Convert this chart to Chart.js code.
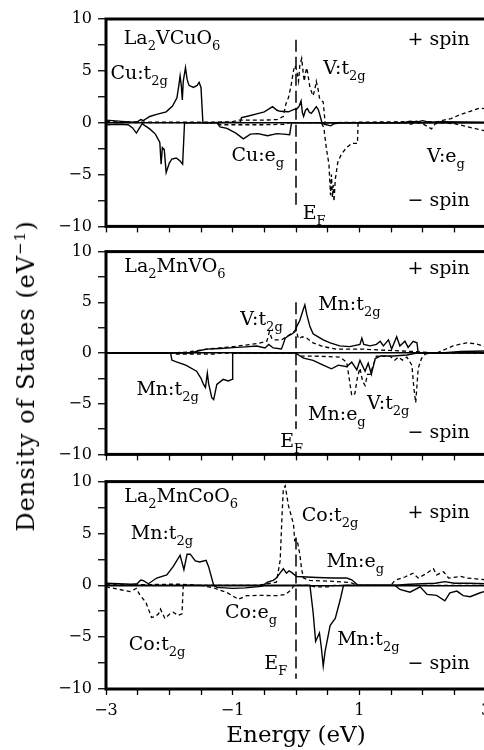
<!DOCTYPE html>
<html lang="en">
<head>
<meta charset="UTF-8">
<title>Density of States</title>
<script src="https://cdn.jsdelivr.net/npm/chart.js"></script>
<style>
  body { margin: 0; background: #fff; }
  #wrap { position: relative; width: 484px; height: 750px; overflow: hidden; font-family: "DejaVu Serif", serif; }
  canvas { position: absolute; left: 0; }
  #ytitle { position: absolute; left: 26px; top: 376px; transform: translate(-50%, -50%) rotate(-90deg);
            white-space: nowrap; font-size: 24px; line-height: 24px; letter-spacing: 1px; }
  #ytitle sup { font-size: 15px; line-height: 0; }
</style>
</head>
<body>
<div id="wrap">
  <canvas id="c1" width="500" height="242" style="top:0px"></canvas>
  <canvas id="c2" width="500" height="234" style="top:236px"></canvas>
  <canvas id="c3" width="500" height="284" style="top:466px"></canvas>
  <div id="ytitle">Density of States (eV<sup>−1</sup>)</div>
</div>

<script>
// [energy (eV), DOS] pairs
// La2VCuO6
const vcuSolidUp = [[-3,0.25],[-2.9,0.2],[-2.8,0.15],[-2.7,0.1],[-2.6,0.05],[-2.5,0.1],[-2.45,0.3],[-2.41,0.2],[-2.35,0.45],[-2.31,0.6],[-2.2,0.8],[-2.05,1.05],[-1.95,1.6],[-1.88,2.4],[-1.85,3.6],[-1.83,4.5],[-1.81,3.5],[-1.795,2.2],[-1.78,4.0],[-1.745,5.3],[-1.72,4.2],[-1.69,3.6],[-1.62,3.4],[-1.56,3.6],[-1.53,3.9],[-1.5,3.4],[-1.47,0],[-0.88,0.05],[-0.86,0.5],[-0.75,0.65],[-0.62,0.85],[-0.5,1.05],[-0.42,1.35],[-0.37,1.55],[-0.3,1.2],[-0.25,1.1],[-0.12,1.05],[-0.02,1.3],[0.01,1.3],[0.05,1.6],[0.08,2.1],[0.1,1.0],[0.12,0.6],[0.15,1.2],[0.18,1.35],[0.21,1.0],[0.24,0.9],[0.28,1.2],[0.32,1.55],[0.35,1.3],[0.37,0.9],[0.41,0],[1.7,0],[1.8,0.15],[1.9,0.05],[2.0,0.2],[2.1,0.05],[2.3,0.1],[3,0.05]];
const vcuSolidDown = [[-3,-0.2],[-2.8,-0.15],[-2.65,-0.2],[-2.58,-0.5],[-2.52,-1.0],[-2.47,-0.5],[-2.43,-0.1],[-2.38,-0.3],[-2.31,-0.6],[-2.22,-1.1],[-2.15,-1.9],[-2.13,-4.0],[-2.11,-2.4],[-2.08,-2.6],[-2.05,-4.8],[-2.0,-3.9],[-1.96,-3.5],[-1.89,-3.4],[-1.83,-3.7],[-1.79,-4.0],[-1.76,0],[-1.25,0],[-1.2,-0.4],[-1.09,-0.55],[-0.95,-1.0],[-0.83,-1.55],[-0.72,-1.1],[-0.6,-1.05],[-0.45,-1.25],[-0.3,-1.05],[-0.2,-1.1],[-0.1,-1.15],[-0.07,0],[0.38,0],[0.45,-0.15],[0.55,-0.3],[0.6,-0.1],[0.7,0],[3,0]];
const vcuDashUp = [[-3,0.1],[-2.5,0.05],[-1.25,0.05],[-1.0,0.1],[-0.9,0.25],[-0.5,0.25],[-0.3,0.3],[-0.2,0.6],[-0.16,1.8],[-0.12,2.4],[-0.08,3.5],[-0.04,5.0],[-0.02,5.5],[0.01,5.1],[0.04,4.0],[0.06,5.5],[0.09,6.2],[0.11,5.0],[0.13,4.0],[0.15,4.8],[0.17,5.3],[0.2,4.2],[0.22,3.4],[0.25,2.9],[0.27,2.6],[0.3,3.3],[0.32,4.0],[0.35,3.2],[0.37,2.4],[0.41,2.1],[0.43,2.0],[0.46,0],[1.7,0.1],[1.8,0],[1.9,0.15],[2.0,0],[2.1,0.1],[2.2,0.05],[2.3,0.2],[2.45,0.4],[2.6,0.8],[2.75,1.1],[2.9,1.4],[3,1.35]];
const vcuDashDown = [[-3,0],[-1.25,0],[-1.2,-0.2],[-0.5,-0.2],[-0.2,-0.15],[-0.1,0],[0.4,0],[0.44,-0.5],[0.48,-2.5],[0.52,-4.0],[0.545,-7.0],[0.56,-5.0],[0.575,-7.2],[0.59,-6.0],[0.6,-7.6],[0.62,-5.5],[0.66,-3.8],[0.72,-3.0],[0.8,-2.4],[0.88,-2.0],[0.97,-2.0],[0.98,0],[1.7,0],[1.8,-0.15],[1.9,0],[2.0,-0.1],[2.14,-0.6],[2.2,-0.1],[2.3,0],[2.5,-0.1],[2.65,-0.3],[2.85,-0.6],[3,-0.8]];

// La2MnVO6
const mnvSolidUp = [[-3,0],[-1.65,0],[-1.55,0.2],[-1.41,0.38],[-1.2,0.45],[-0.99,0.53],[-0.8,0.6],[-0.62,0.69],[-0.49,0.5],[-0.43,0.85],[-0.36,0.5],[-0.23,0.4],[-0.2,0.9],[-0.17,1.47],[-0.12,1.7],[-0.07,1.85],[-0.02,2.1],[0.01,2.6],[0.06,3.2],[0.12,4.4],[0.14,4.75],[0.17,3.8],[0.22,2.6],[0.27,1.9],[0.35,1.6],[0.43,1.3],[0.54,1.0],[0.69,0.7],[0.85,0.63],[1.01,0.85],[1.04,1.47],[1.07,0.85],[1.17,0.7],[1.27,0.85],[1.33,1.16],[1.38,0.7],[1.46,1.3],[1.51,0.4],[1.59,1.6],[1.64,0.7],[1.72,1.16],[1.77,0.55],[1.85,1.16],[1.91,1.0],[1.93,0],[2.3,0],[2.6,0.15],[3,0.2]];
const mnvSolidDown = [[-3,0],[-1.98,0],[-1.96,-0.7],[-1.9,-0.85],[-1.74,-1.2],[-1.57,-1.8],[-1.5,-2.5],[-1.46,-3.1],[-1.43,-3.4],[-1.4,-2.0],[-1.38,-3.0],[-1.33,-4.4],[-1.3,-4.6],[-1.25,-3.1],[-1.15,-2.6],[-1.07,-2.75],[-1.01,-2.6],[-1.0,0],[0,0],[0.04,-0.2],[0.12,-0.5],[0.27,-0.72],[0.43,-1.2],[0.56,-1.56],[0.67,-1.2],[0.8,-1.35],[0.88,-0.9],[0.96,-1.66],[1.01,-0.72],[1.09,-1.8],[1.14,-1.0],[1.19,-2.1],[1.25,-0.56],[1.33,-0.3],[1.54,-0.3],[1.75,-0.2],[1.91,0],[3,0]];
const mnvDashUp = [[-3,0],[-1.95,0],[-1.7,0.1],[-1.41,0.38],[-0.99,0.63],[-0.6,0.94],[-0.46,1.16],[-0.42,2.1],[-0.38,1.4],[-0.33,1.3],[-0.23,1.3],[-0.15,1.6],[-0.08,1.9],[0,2.25],[0.04,1.4],[0.1,1.6],[0.17,1.47],[0.27,1.0],[0.43,0.63],[0.64,0.38],[1.06,0.38],[1.48,0.25],[1.85,0.15],[2.22,0],[2.48,0.7],[2.69,1.0],[2.85,0.9],[3,0.6]];
const mnvDashDown = [[-3,0],[-1.95,0],[-1.9,-0.1],[-1.3,-0.1],[-1.2,0],[0,0],[0.06,-0.3],[0.27,-0.3],[0.69,-0.4],[0.8,-0.9],[0.83,-2.1],[0.88,-4.2],[0.93,-4.0],[0.97,-2.4],[1.01,-1.5],[1.05,-2.75],[1.09,-3.2],[1.13,-2.1],[1.17,-2.1],[1.22,-1.2],[1.27,-0.3],[1.48,-0.3],[1.56,-0.7],[1.62,-0.4],[1.68,-0.7],[1.75,-0.4],[1.83,-1.2],[1.86,-3.4],[1.89,-4.9],[1.93,-1.5],[1.98,-0.56],[2.04,-0.1],[2.17,0],[3,0]];

// La2MnCoO6
const mncSolidUp = [[-3,0.2],[-2.8,0.15],[-2.6,0.1],[-2.51,0.15],[-2.45,0.5],[-2.41,0.45],[-2.33,0.15],[-2.2,0.7],[-2.04,1.0],[-1.94,1.8],[-1.83,2.9],[-1.77,1.5],[-1.72,3.0],[-1.67,3.0],[-1.59,2.35],[-1.52,2.25],[-1.42,2.4],[-1.38,1.8],[-1.3,0],[-0.52,0],[-0.45,0.3],[-0.36,0.47],[-0.31,0.7],[-0.25,1.2],[-0.2,1.6],[-0.15,1.16],[-0.11,1.4],[-0.07,1.25],[0.01,0.85],[0.33,0.75],[0.59,0.7],[0.8,0.7],[0.88,0.53],[0.98,0],[1.56,0],[1.8,0.1],[2.0,0.15],[2.2,0.2],[2.35,0.35],[2.5,0.2],[2.7,0.2],[3,0.15]];
const mncSolidDown = [[-3,0],[-1.3,0],[-1.25,-0.2],[-1.0,-0.3],[-0.8,-0.25],[-0.55,-0.1],[-0.5,0],[0.22,0],[0.27,-2.6],[0.31,-5.4],[0.37,-4.6],[0.4,-6.0],[0.43,-7.8],[0.46,-6.35],[0.54,-3.85],[0.62,-3.2],[0.7,-1.35],[0.75,0],[1.56,0],[1.64,-0.4],[1.8,-0.66],[1.96,-0.15],[2.07,-0.88],[2.22,-0.97],[2.35,-1.5],[2.43,-0.72],[2.54,-0.56],[2.64,-1.0],[2.75,-1.1],[2.91,-0.72],[3,-0.56]];
const mncDashUp = [[-3,0.05],[-2.5,0.05],[-2.0,0.1],[-1.8,0.1],[-1.5,0],[-0.6,0],[-0.31,0.3],[-0.25,2.4],[-0.22,6.8],[-0.2,9.3],[-0.17,9.6],[-0.12,7.7],[-0.04,5.9],[-0.02,4.3],[0.01,4.4],[0.03,4.0],[0.06,3.0],[0.09,1.5],[0.12,0.7],[0.22,0.47],[0.59,0.38],[0.85,0.28],[0.98,0],[1.5,0],[1.56,0.47],[1.72,0.8],[1.85,1.16],[1.93,0.7],[2.05,1.1],[2.17,1.6],[2.22,1.0],[2.33,1.3],[2.41,0.7],[2.6,0.85],[2.7,0.7],[3,0.53]];
const mncDashDown = [[-3,-0.15],[-2.83,-0.35],[-2.62,-0.6],[-2.52,-0.3],[-2.47,-0.88],[-2.37,-1.66],[-2.28,-3.1],[-2.22,-3.0],[-2.17,-2.75],[-2.14,-2.3],[-2.07,-3.2],[-1.99,-2.75],[-1.94,-2.6],[-1.86,-2.9],[-1.8,-2.75],[-1.78,0],[-1.5,0],[-1.3,-0.25],[-1.09,-0.7],[-0.91,-1.35],[-0.78,-1.0],[-0.57,-0.97],[-0.31,-1.0],[-0.17,-0.9],[-0.07,-0.4],[-0.03,0],[0.2,0],[0.3,-0.15],[0.5,-0.15],[0.6,0],[3,0]];

// tick labels shown on the axes
const xTickLabels = [-3, -1, 1, 3];
const yTickLabels = [-10, -5, 0, 5, 10];

// panel annotations: [text, energy, DOS]  ( _x / _{..} = subscript )
const vcuLabels = [['La_2VCuO_6',-2.72,7.6],['+ spin',1.76,7.5],['Cu:t_{2g}',-2.93,4.2],['V:t_{2g}',0.43,4.7],['Cu:e_g',-1.02,-3.66],['V:e_g',2.07,-3.8],['− spin',1.76,-8.05],['E_F',0.105,-9.3]];
const mnvLabels = [['La_2MnVO_6',-2.71,7.95],['+ spin',1.76,7.8],['V:t_{2g}',-0.88,2.8],['Mn:t_{2g}',0.35,4.2],['Mn:t_{2g}',-2.52,-4.16],['Mn:e_g',0.19,-6.6],['V:t_{2g}',1.12,-5.5],['− spin',1.76,-8.4],['E_F',-0.25,-9.3]];
const mncLabels = [['La_2MnCoO_6',-2.71,8.0],['+ spin',1.76,6.5],['Mn:t_{2g}',-2.61,4.45],['Co:t_{2g}',0.09,6.2],['Mn:e_g',0.48,1.8],['Co:e_g',-1.12,-3.2],['Co:t_{2g}',-2.64,-6.2],['Mn:t_{2g}',0.65,-5.8],['E_F',-0.5,-8.1],['− spin',1.76,-8.1]];

const FONT = '"DejaVu Serif", serif';
const minus = v => String(v).replace('-', '−');

function drawRich(ctx, str, x, y) {
  const parts = str.split(/(_\{[^}]*\}|_.)/).filter(s => s);
  let cx = x;
  parts.forEach(p => {
    if (p[0] === '_') {
      const s = p[1] === '{' ? p.slice(2, -1) : p.slice(1);
      ctx.font = '13px ' + FONT;
      ctx.fillText(s, cx, y + 6);
      cx += ctx.measureText(s).width;
    } else {
      ctx.font = '19px ' + FONT;
      ctx.fillText(p, cx, y);
      cx += ctx.measureText(p).width;
    }
  });
}

// frame, Fermi level line and text labels
const panelDecor = {
  id: 'panelDecor',
  afterDraw(chart, args, opts) {
    const { ctx, chartArea: a, scales: { x, y } } = chart;
    ctx.save();
    ctx.strokeStyle = '#000';
    ctx.fillStyle = '#000';
    // Fermi level
    ctx.lineWidth = 1.5;
    ctx.setLineDash([12, 5]);
    ctx.beginPath();
    ctx.moveTo(x.getPixelForValue(0), y.getPixelForValue(opts.efTop));
    ctx.lineTo(x.getPixelForValue(0), y.getPixelForValue(opts.efBottom));
    ctx.stroke();
    ctx.setLineDash([]);
    // frame
    ctx.lineWidth = 3;
    ctx.strokeRect(a.left, a.top, a.right - a.left, a.bottom - a.top);
    // labels
    ctx.textBaseline = 'alphabetic';
    ctx.textAlign = 'left';
    opts.labels.forEach(([t, e, d]) => drawRich(ctx, t, x.getPixelForValue(e), y.getPixelForValue(d)));
    ctx.restore();
  }
};

function curve(arr, dashed) {
  return {
    data: arr.map(([e, d]) => ({ x: e, y: d })),
    borderColor: '#000',
    borderWidth: dashed ? 1.3 : 1.4,
    borderDash: dashed ? [4, 3] : [],
    pointRadius: 0,
    tension: 0,
    fill: false
  };
}

function makePanel(id, curves, labels, ef, padTop, xHeight, bottomAxis) {
  new Chart(document.getElementById(id), {
    type: 'line',
    data: { datasets: curves },
    plugins: [panelDecor],
    options: {
      responsive: false,
      animation: false,
      events: [],
      layout: { padding: { top: padTop, right: 14, left: 0, bottom: 0 } },
      plugins: {
        legend: { display: false },
        tooltip: { enabled: false },
        panelDecor: { labels: labels, efTop: ef[0], efBottom: ef[1] }
      },
      scales: {
        x: {
          type: 'linear', min: -3, max: 3,
          border: { display: false },
          grid: { drawOnChartArea: false, tickLength: 6, tickColor: '#000', tickWidth: 1.3 },
          ticks: {
            stepSize: 0.5, autoSkip: false, maxRotation: 0, padding: 6, color: '#000',
            font: { family: FONT, size: 16 },
            callback: v => bottomAxis && xTickLabels.includes(v) ? minus(v) : ''
          },
          title: bottomAxis ? { display: true, text: 'Energy (eV)', color: '#000', font: { family: FONT, size: 23 }, padding: { top: 0, bottom: 0 } } : { display: false },
          afterFit: s => { s.height = xHeight; }
        },
        y: {
          min: -10, max: 10,
          border: { display: false },
          grid: {
            color: c => c.tick && c.tick.value === 0 ? '#000' : 'rgba(0,0,0,0)',
            lineWidth: 1.5, tickLength: 8, tickColor: '#000', tickWidth: 1.3
          },
          ticks: {
            stepSize: 2.5, autoSkip: false, padding: 6, color: '#000',
            font: { family: FONT, size: 16 },
            callback: v => yTickLabels.includes(v) ? minus(v) : ''
          },
          afterFit: s => { s.width = 106; }
        }
      }
    }
  });
}

makePanel('c1', [curve(vcuSolidUp), curve(vcuSolidDown), curve(vcuDashUp, true), curve(vcuDashDown, true)], vcuLabels, [8.0, -8.1], 19, 10, false);
makePanel('c2', [curve(mnvSolidUp), curve(mnvSolidDown), curve(mnvDashUp, true), curve(mnvDashDown, true)], mnvLabels, [5.0, -7.5], 11, 10, false);
makePanel('c3', [curve(mncSolidUp), curve(mncSolidDown), curve(mncDashUp, true), curve(mncDashDown, true)], mncLabels, [4.6, -9.0], 10, 61, true);
</script>
</body>
</html>
